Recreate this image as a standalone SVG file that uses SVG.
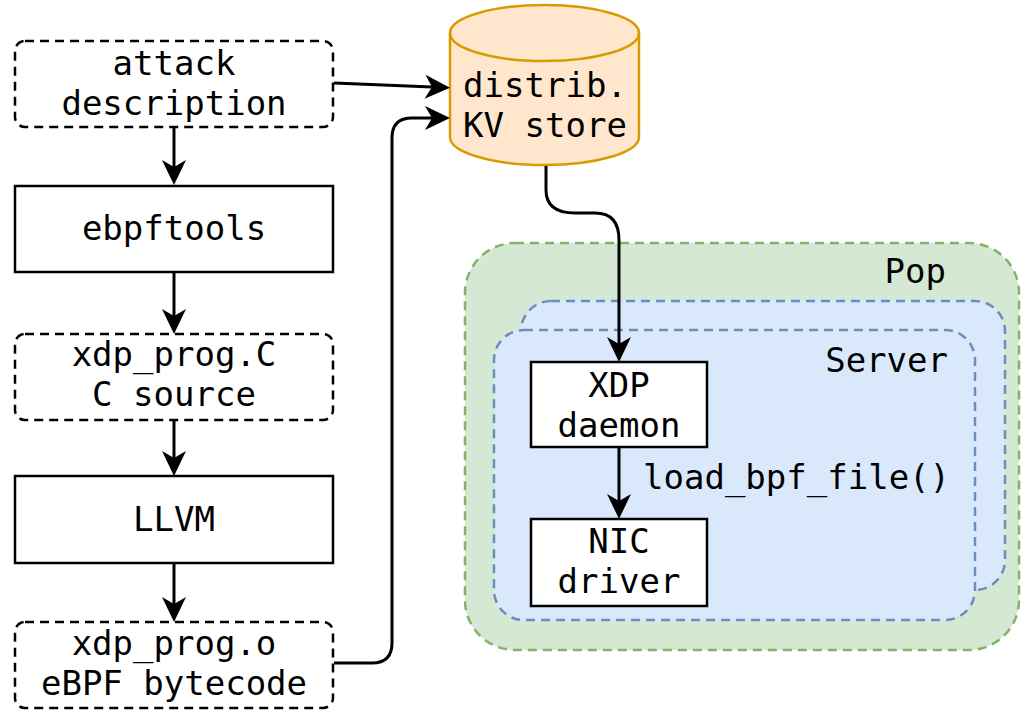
<svg xmlns="http://www.w3.org/2000/svg" width="1022" height="710" viewBox="0 0 1022 710">
<style>
text{font-family:"DejaVu Sans Mono","Liberation Mono",monospace;font-size:34px;fill:#000}
.c{text-anchor:middle}
.r{text-anchor:end}
.dash{fill:#fff;stroke:#000;stroke-width:2.5;stroke-dasharray:9 6}
.box{fill:#fff;stroke:#000;stroke-width:2.5}
.edge{fill:none;stroke:#000;stroke-width:3;marker-end:url(#arr)}
.pop{fill:#d5e8d4;stroke:#82b366;stroke-width:2.5;stroke-dasharray:9 6}
.srv{fill:#dae8fc;stroke:#6c8ebf;stroke-width:2.5;stroke-dasharray:9 6}
</style>
<defs>
<marker id="arr" viewBox="-8 -13 28 26" refX="0" refY="0" markerWidth="28" markerHeight="26" markerUnits="userSpaceOnUse" orient="auto">
<path d="M-7,-12 L18,0 L-7,12 L0,0 Z" fill="#000"/>
</marker>
</defs>
<rect width="1022" height="710" fill="#fff"/>
<g id="pop">
<rect class="pop" x="465" y="243" width="554" height="407" rx="50"/>
<text class="r" x="946" y="283">Pop</text>
</g>
<g id="server">
<rect class="srv" x="521" y="301" width="484" height="289" rx="30"/>
<rect class="srv" x="494" y="330" width="481" height="290" rx="30"/>
<text class="r" x="948" y="372">Server</text>
</g>
<g id="attack">
<rect class="dash" x="15" y="41" width="318" height="86" rx="10"/>
<text class="c" x="174" y="75">attack</text>
<text class="c" x="174" y="115">description</text>
</g>
<g id="ebpftools">
<rect class="box" x="15" y="186" width="318" height="86"/>
<text class="c" x="174" y="240">ebpftools</text>
</g>
<g id="xdpc">
<rect class="dash" x="15" y="334" width="318" height="86" rx="10"/>
<text class="c" x="174" y="366">xdp_prog.C</text>
<text class="c" x="174" y="406">C source</text>
</g>
<g id="llvm">
<rect class="box" x="15" y="476" width="318" height="87"/>
<text class="c" x="174" y="531">LLVM</text>
</g>
<g id="xdpo">
<rect class="dash" x="15" y="622" width="318" height="86" rx="10"/>
<text class="c" x="174" y="655">xdp_prog.o</text>
<text class="c" x="174" y="695">eBPF bytecode</text>
</g>
<g id="kv">
<path d="M450 33 A94.5 28 0 0 1 639 33 L639 137 A94.5 28 0 0 1 450 137 Z" fill="#ffe6cc" stroke="#d79b00" stroke-width="2.5"/>
<path d="M450 33 A94.5 28 0 0 0 639 33" fill="none" stroke="#d79b00" stroke-width="2.5"/>
<text class="c" x="545" y="97">distrib.</text>
<text class="c" x="545" y="137">KV store</text>
</g>
<g id="xdpd">
<rect class="box" x="531" y="362" width="176" height="85"/>
<text class="c" x="619" y="397">XDP</text>
<text class="c" x="619" y="437">daemon</text>
</g>
<g id="nic">
<rect class="box" x="531" y="519" width="176" height="87"/>
<text class="c" x="619" y="553">NIC</text>
<text class="c" x="619" y="593">driver</text>
</g>
<g id="connectors">
<path class="edge" d="M174 127 V167"/>
<path class="edge" d="M174 272 V316"/>
<path class="edge" d="M174 420 V458"/>
<path class="edge" d="M174 563 V604"/>
<path class="edge" d="M334 83 L432 87"/>
<path class="edge" d="M334 663 H372 Q392 663 392 643 V138 Q392 118 412 118 H432"/>
<path class="edge" d="M546 166 V190 Q546 213 575 213 L595 213 Q619 213 619 240 V344"/>
<path class="edge" d="M619 447 V501"/>
<text x="643" y="489">load_bpf_file()</text>
</g>
</svg>
